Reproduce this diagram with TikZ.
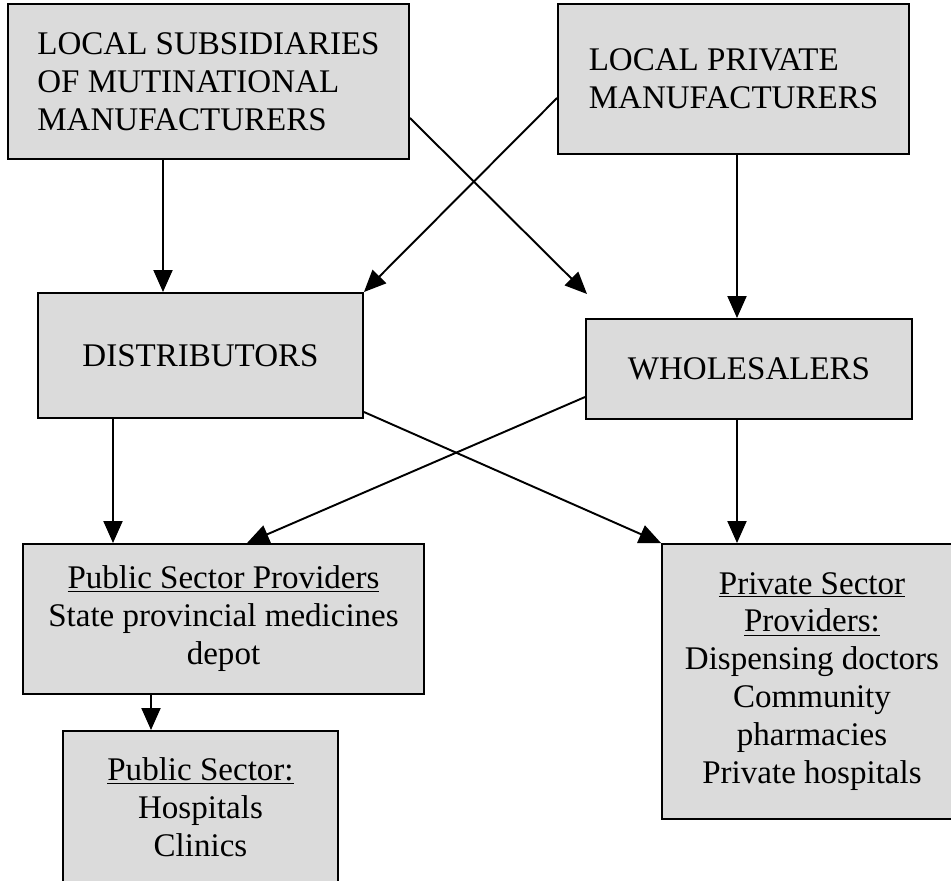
\documentclass[tikz,border=0pt]{standalone}
\usepackage{fontspec}
\setmainfont{Liberation Serif}
\usepackage{tikz}
\usetikzlibrary{arrows.meta}

\definecolor{boxgray}{gray}{0.86}

\begin{document}
\begin{tikzpicture}[x=0.02cm, y=-0.02cm,
		stage/.style={draw, fill=boxgray, line width=1.1pt, inner sep=0pt, align=center,
			font=\fontsize{18.8}{21.6}\selectfont},
		flow/.style={-{Triangle[length=0.44cm, width=0.38cm]}, line width=1.1pt}]
		\useasboundingbox (0,0) rectangle (951,881);
		% manufacturers
		\node[stage, align=left, minimum width=8.02cm, minimum height=3.1cm] (subs) at (208.5,81.5)
			{LOCAL SUBSIDIARIES\\OF MUTINATIONAL\\MANUFACTURERS};
		\node[stage, align=left, minimum width=7.02cm, minimum height=3.0cm] (pman) at (733.5,79)
			{LOCAL PRIVATE\\MANUFACTURERS};
		% middle level
		\node[stage, minimum width=6.5cm, minimum height=2.5cm] (dist) at (200.5,355.5) {DISTRIBUTORS};
		\node[stage, minimum width=6.52cm, minimum height=2.0cm] (whole) at (749,369) {WHOLESALERS};
		% providers
		\node[stage, minimum width=8.02cm, minimum height=3.0cm] (pubprov) at (223.5,619)
			{\underline{Public Sector Providers}\\State provincial medicines\\depot};
		\node[stage, minimum width=6.0cm, minimum height=5.5cm] (privprov) at (812,681.5)
			{\underline{Private Sector}\\\underline{Providers:}\\Dispensing doctors\\Community\\pharmacies\\Private hospitals};
		\node[stage, minimum width=5.5cm, minimum height=3.04cm] (pubsec) at (200.5,807)
			{\underline{Public Sector:}\\Hospitals\\Clinics};
		\coordinate (whtip) at (587,294);

		\draw[flow] (subs.south -| 163,0) -- (dist.north -| 163,0);
		\draw[flow] (subs.east |- 0,118) -- (whtip);
		\draw[flow] (pman.west |- 0,98) -- (dist.north east);
		\draw[flow] (pman.south -| 737,0) -- (whole.north -| 737,0);
		\draw[flow] (dist.south -| 113,0) -- (pubprov.north -| 113,0);
		\draw[flow] (dist.east |- 0,412) -- (privprov.north west);
		\draw[flow] (whole.west |- 0,397) -- (pubprov.north -| 247,0);
		\draw[flow] (whole.south -| 737,0) -- (privprov.north -| 737,0);
		\draw[flow] (pubprov.south -| 151,0) -- (pubsec.north -| 151,0);
	\end{tikzpicture}
\end{document}
